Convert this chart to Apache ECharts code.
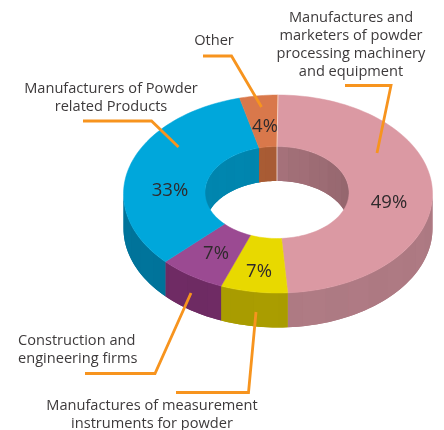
<!DOCTYPE html>
<html>
<head>
<meta charset="utf-8">
<style>html,body{margin:0;padding:0;background:#fff}#chart{width:444px;height:430px}</style>
<script src="https://cdn.jsdelivr.net/npm/echarts@6/dist/echarts.min.js"></script>
</head>
<body>
<div id="chart"></div>
<script>
// Company types, clockwise from twelve o'clock
const categories = [
  'Manufactures and\nmarketers of powder\nprocessing machinery\nand equipment',
  'Manufactures of measurement\ninstruments for powder',
  'Construction and\nengineering firms',
  'Manufacturers of Powder\nrelated Products',
  'Other'
];
const shares = [49, 7, 7, 33, 4];

// Face, outer wall and inner wall colours per slice
const topColors = ['#DB99A3', '#E8D900', '#9B4A92', '#00A7DB', '#D9784B'];
const outerWallColors = ['#AE7A83', '#A99C00', '#6E2B63', '#00739A', '#A85B34'];
const innerWallColors = ['#9A6A72', '#A99C00', '#6E2B63', '#0085AE', '#A85B34'];

// Tilted-ring geometry
const outer = { cx: 278, cy: 194, rx: 154.5, ry: 99 };
const inner = { cx: 277, cy: 192.5, rx: 72, ry: 46 };
const depth = 34.5;

const percentSpots = [[389, 203], [259, 272], [216, 254], [170, 191], [265, 127]];
const labelSpots = [
  { x: 351, y: 45, align: 'center' },
  { x: 152, y: 414.5, align: 'center' },
  { x: 18, y: 350, align: 'left' },
  { x: 111, y: 98, align: 'center' },
  { x: 214, y: 41, align: 'center' }
];
const leaders = [
  [[345, 85.5], [391, 85.5], [377, 153]],
  [[176, 392.5], [248.5, 392.5], [256, 312]],
  [[85, 373.5], [155, 373.5], [191, 293]],
  [[83, 121], [151.5, 121], [178.5, 147]],
  [[203, 56], [231.5, 56], [261.5, 107]]
];

const FONT = '"Open Sans", sans-serif';

function onRing(ring, deg, dy) {
  const a = deg * Math.PI / 180;
  return [ring.cx + ring.rx * Math.sin(a), ring.cy - ring.ry * Math.cos(a) + (dy || 0)];
}
function arc(ring, from, to, dy) {
  const pts = [];
  const n = Math.max(1, Math.ceil(Math.abs(to - from) / 2));
  for (let i = 0; i <= n; i++) pts.push(onRing(ring, from + (to - from) * i / n, dy));
  return pts;
}
function tint(hex, f) {
  const n = parseInt(hex.slice(1), 16);
  const c = [n >> 16, (n >> 8) & 255, n & 255].map(v => Math.min(255, Math.round(v * f)));
  return 'rgb(' + c.join(',') + ')';
}
// Wall of a ring between two angles: one solid band, then slightly uneven facets over it
function wall(ring, from, to, color, z2, shadeAt) {
  const parts = [{
    type: 'polygon', z2: z2, silent: true,
    shape: { points: arc(ring, from, to).concat(arc(ring, to, from, depth)) },
    style: { fill: tint(color, shadeAt((from + to) / 2)), stroke: null }
  }];
  const step = 9;
  let idx = Math.floor(from / step);
  for (let t = from; t < to - 0.01; idx++) {
    const next = Math.min(to, (idx + 1) * step);
    parts.push({
      type: 'polygon', z2: z2 + 0.5, silent: true,
      shape: { points: arc(ring, t, next).concat(arc(ring, next, t, depth)) },
      style: { fill: tint(color, shadeAt(t) * (idx % 2 ? 1 : 1.008)), stroke: null }
    });
    t = next;
  }
  return parts;
}
function overlap(a0, a1, b0, b1) {
  const s = Math.max(a0, b0), e = Math.min(a1, b1);
  return e > s ? [s, e] : null;
}

const total = shares.reduce((s, v) => s + v, 0);

function renderSlice(params, api) {
  const i = params.dataIndex;
  const before = shares.slice(0, i).reduce((s, v) => s + v, 0);
  const start = before / total * 360;
  const end = start + api.value(0) / total * 360;
  const children = [];

  // Back of the hole: first and last quadrants only
  [[0, 90], [270, 360]].forEach(r => {
    const o = overlap(start, end, r[0], r[1]);
    if (o) children.push(...wall(inner, o[0], o[1], innerWallColors[i], 1,
      t => (t < 90 ? 1.06 - 0.13 * t / 90 : 1)));
  });
  // Front of the rim
  const front = overlap(start, end, 90, 270);
  if (front) children.push(...wall(outer, front[0], front[1], outerWallColors[i], 2,
    t => (t < 180 ? 0.99 + 0.01 * (t - 90) / 90 : 1)));

  // Flat top of the slice
  children.push({
    type: 'polygon', z2: 3, silent: true,
    shape: { points: arc(outer, start, end).concat(arc(inner, end, start)) },
    style: { fill: topColors[i], stroke: topColors[i], lineWidth: 0.5 }
  });
  // Percentage printed on the slice
  children.push({
    type: 'text', z2: 5, silent: true,
    style: {
      text: api.value(0) + '%', x: percentSpots[i][0], y: percentSpots[i][1],
      fill: '#2f2a2c', font: '18.5px ' + FONT, textAlign: 'center', textVerticalAlign: 'middle'
    }
  });
  return { type: 'group', children: children };
}

const graphics = [];
leaders.forEach(points => graphics.push({
  type: 'polyline', z: 10, silent: true,
  shape: { points: points },
  style: { fill: null, stroke: '#F7941E', lineWidth: 2.8, lineJoin: 'miter' }
}));
categories.forEach((name, i) => graphics.push({
  type: 'text', z: 10, silent: true,
  style: {
    text: name, x: labelSpots[i].x, y: labelSpots[i].y, fill: '#3d3a3b',
    font: '14.6px ' + FONT, lineHeight: 18,
    textAlign: labelSpots[i].align, textVerticalAlign: 'middle'
  }
}));
// Pale seams where the big slice meets the small one, on top and in the hole
graphics.push({
  type: 'polyline', z: 6, silent: true,
  shape: { points: [onRing(outer, 0), onRing(inner, 0), onRing(inner, 0, depth)] },
  style: { fill: null, stroke: 'rgba(255,235,230,0.85)', lineWidth: 0.9 }
});

const chart = echarts.init(document.getElementById('chart'), null, { renderer: 'canvas' });
chart.setOption({
  animation: false,
  backgroundColor: '#fff',
  series: [{
    type: 'custom',
    coordinateSystem: 'none',
    renderItem: renderSlice,
    data: shares.map(v => [v]),
    silent: true
  }],
  graphic: { elements: graphics }
});
</script>
</body>
</html>
